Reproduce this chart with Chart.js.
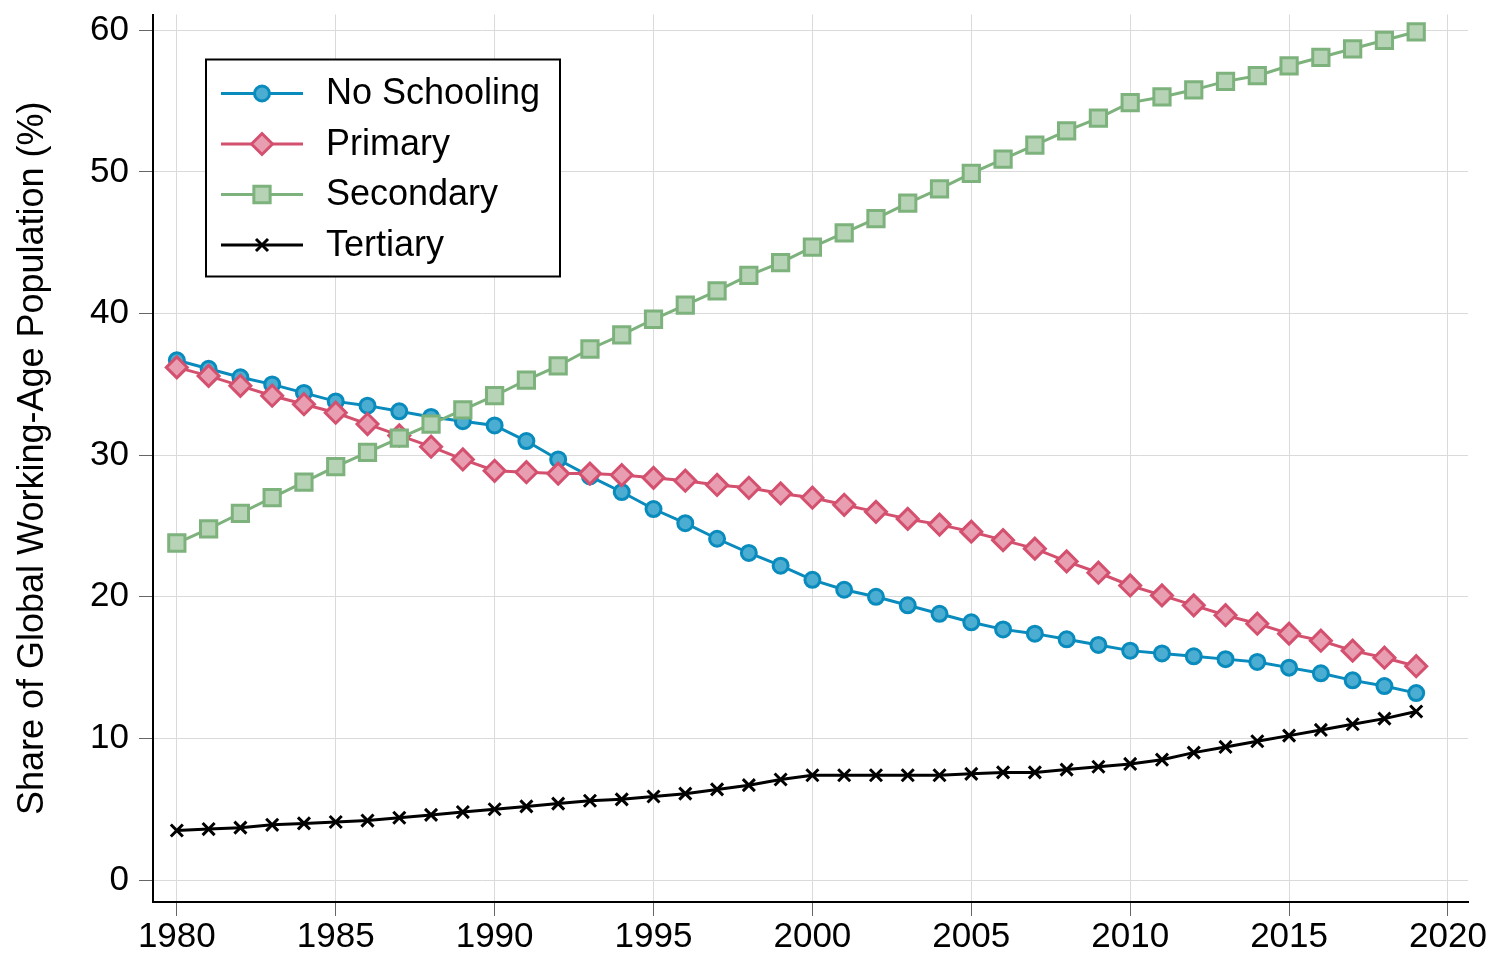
<!DOCTYPE html>
<html>
<head>
<meta charset="utf-8">
<script src="https://cdn.jsdelivr.net/npm/chart.js@4.4.1/dist/chart.umd.min.js"></script>
<style>
    html, body { margin: 0; padding: 0; background: #fff; }
    #wrap { width: 1497px; height: 960px; }
</style>
</head>
<body>
<div id="wrap"><canvas id="eduChart" width="1497" height="960"></canvas></div>
<script>
// Data
const years = [1980, 1981, 1982, 1983, 1984, 1985, 1986, 1987, 1988, 1989,
               1990, 1991, 1992, 1993, 1994, 1995, 1996, 1997, 1998, 1999,
               2000, 2001, 2002, 2003, 2004, 2005, 2006, 2007, 2008, 2009,
               2010, 2011, 2012, 2013, 2014, 2015, 2016, 2017, 2018, 2019];

const noSchooling = [36.7, 36.1, 35.5, 35.0, 34.4, 33.8, 33.5, 33.1, 32.7, 32.4,
                     32.1, 31.0, 29.7, 28.5, 27.4, 26.2, 25.2, 24.1, 23.1, 22.2,
                     21.2, 20.5, 20.0, 19.4, 18.8, 18.2, 17.7, 17.4, 17.0, 16.6,
                     16.2, 16.0, 15.8, 15.6, 15.4, 15.0, 14.6, 14.1, 13.7, 13.2];

const primary = [36.2, 35.6, 34.9, 34.2, 33.6, 33.0, 32.2, 31.4, 30.6, 29.7,
                 28.9, 28.8, 28.7, 28.7, 28.6, 28.4, 28.2, 27.9, 27.7, 27.3,
                 27.0, 26.5, 26.0, 25.5, 25.1, 24.6, 24.0, 23.4, 22.5, 21.7,
                 20.8, 20.1, 19.4, 18.7, 18.1, 17.4, 16.9, 16.2, 15.7, 15.1];

const secondary = [23.8, 24.8, 25.9, 27.0, 28.1, 29.2, 30.2, 31.2, 32.2, 33.2,
                   34.2, 35.3, 36.3, 37.5, 38.5, 39.6, 40.6, 41.6, 42.7, 43.6,
                   44.7, 45.7, 46.7, 47.8, 48.8, 49.9, 50.9, 51.9, 52.9, 53.8,
                   54.9, 55.3, 55.8, 56.4, 56.8, 57.5, 58.1, 58.7, 59.3, 59.9];

const tertiary = [3.5, 3.6, 3.7, 3.9, 4.0, 4.1, 4.2, 4.4, 4.6, 4.8,
                  5.0, 5.2, 5.4, 5.6, 5.7, 5.9, 6.1, 6.4, 6.7, 7.1,
                  7.4, 7.4, 7.4, 7.4, 7.4, 7.5, 7.6, 7.6, 7.8, 8.0,
                  8.2, 8.5, 9.0, 9.4, 9.8, 10.2, 10.6, 11.0, 11.4, 11.9];

const xTicks = [1980, 1985, 1990, 1995, 2000, 2005, 2010, 2015, 2020];
const yTicks = [0, 10, 20, 30, 40, 50, 60];

const FONT = "'Liberation Sans', Arial, sans-serif";

const seriesStyles = [
    { label: 'No Schooling', data: noSchooling, line: '#0a8bbd', fill: '#4badd1', style: 'circle', radius: 7.5, order: 4 },
    { label: 'Primary',      data: primary,     line: '#d4506f', fill: '#e89db0', style: 'rectRot', radius: 10.5, order: 3 },
    { label: 'Secondary',    data: secondary,   line: '#7db27d', fill: '#b6d3b6', style: 'rect', radius: 11.5, order: 2 },
    { label: 'Tertiary',     data: tertiary,    line: '#000000', fill: '#000000', style: 'crossRot', radius: 8.5, order: 1 }
];

const toPoints = (vals) => vals.map((v, i) => ({ x: years[i], y: v }));

const datasets = seriesStyles.map(s => ({
    label: s.label,
    data: toPoints(s.data),
    borderColor: s.line,
    backgroundColor: s.fill,
    borderWidth: 3,
    pointStyle: s.style,
    pointRadius: s.radius,
    pointBorderWidth: 3,
    pointBackgroundColor: s.fill,
    pointBorderColor: s.line,
    tension: 0,
    fill: false,
    order: s.order
}));

// Boxed legend with line-through-marker keys, drawn on top of the plot
const boxLegend = {
    id: 'boxLegend',
    afterDraw(chart) {
        const ctx = chart.ctx;
        const area = chart.chartArea;
        const left = area.left + 53;
        const top = area.top + 45;
        const w = 354, h = 217;
        ctx.save();
        ctx.fillStyle = '#fff';
        ctx.fillRect(left, top, w, h);
        ctx.strokeStyle = '#000';
        ctx.lineWidth = 2;
        ctx.strokeRect(left, top, w, h);

        seriesStyles.forEach((s, i) => {
            const y = top + 34 + i * 50.5;
            ctx.strokeStyle = s.line;
            ctx.lineWidth = 3;
            ctx.beginPath();
            ctx.moveTo(left + 15, y);
            ctx.lineTo(left + 97, y);
            ctx.stroke();

            ctx.fillStyle = s.fill;
            ctx.strokeStyle = s.line;
            ctx.lineWidth = 3;
            Chart.helpers.drawPoint(ctx, { pointStyle: s.style, radius: s.radius, rotation: 0, borderWidth: 3 }, left + 56, y);

            ctx.fillStyle = '#000';
            ctx.font = '36px ' + FONT;
            ctx.textBaseline = 'middle';
            ctx.textAlign = 'left';
            ctx.fillText(s.label, left + 120, y + 1);
        });
        ctx.restore();
    }
};

const ctx = document.getElementById('eduChart').getContext('2d');
new Chart(ctx, {
    type: 'line',
    data: { datasets: datasets },
    options: {
        responsive: false,
        animation: false,
        layout: { padding: { top: 7, right: 29, left: 0, bottom: 0 } },
        plugins: {
            legend: { display: false },
            tooltip: { enabled: false }
        },
        scales: {
            x: {
                type: 'linear',
                min: 1979.25,
                max: 2020.63,
                afterBuildTicks: (scale) => { scale.ticks = xTicks.map(v => ({ value: v })); },
                afterFit: (scale) => {
                    scale.height = 58;
                    scale.paddingLeft = 0;
                    scale.paddingRight = 0;
                },
                grid: { color: '#dadada', lineWidth: 1, tickColor: '#666', tickLength: 14 },
                border: { display: true, color: '#000', width: 2 },
                ticks: {
                    color: '#000',
                    font: { family: FONT, size: 35 },
                    padding: 0,
                    maxRotation: 0,
                    autoSkip: false,
                    callback: (v) => String(v)
                }
            },
            y: {
                min: -1.55,
                max: 61.12,
                afterBuildTicks: (scale) => { scale.ticks = yTicks.map(v => ({ value: v })); },
                afterFit: (scale) => {
                    scale.width = 153;
                    scale.paddingTop = 0;
                    scale.paddingBottom = 0;
                },
                grid: { color: '#dadada', lineWidth: 1, tickColor: '#666', tickLength: 14 },
                border: { display: true, color: '#000', width: 2 },
                ticks: {
                    color: '#000',
                    font: { family: FONT, size: 35 },
                    padding: 10,
                    autoSkip: false,
                    callback: (v) => String(v)
                },
                title: {
                    display: true,
                    text: 'Share of Global Working-Age Population (%)',
                    color: '#000',
                    font: { family: FONT, size: 36 },
                    padding: { top: 11, bottom: 0 }
                }
            }
        }
    },
    plugins: [boxLegend]
});
</script>
</body>
</html>
